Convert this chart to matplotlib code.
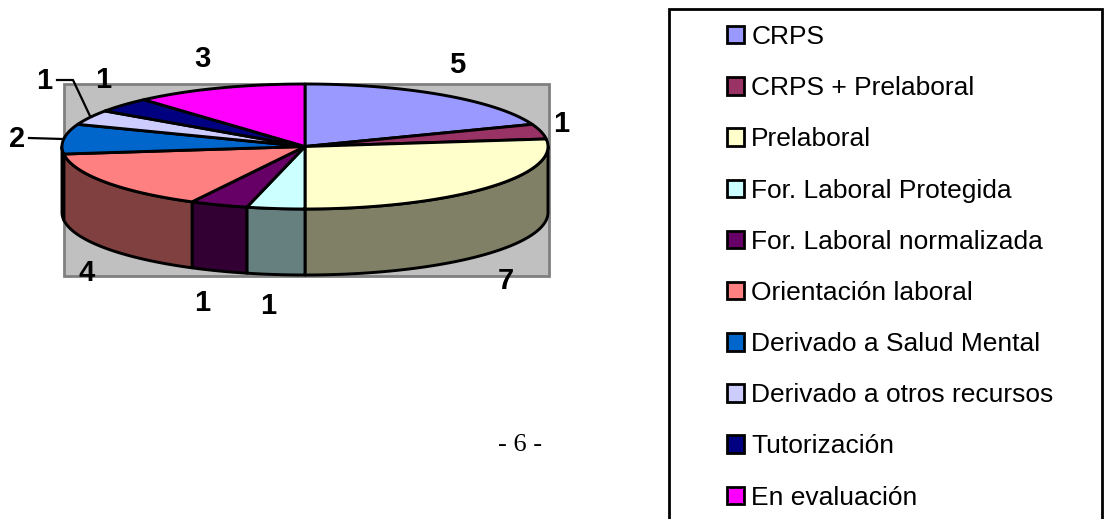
import numpy as np
import matplotlib
matplotlib.use('Agg')
import matplotlib.pyplot as plt
from matplotlib.patches import Polygon, Rectangle, Patch

categorias = ['CRPS', 'CRPS + Prelaboral', 'Prelaboral', 'For. Laboral Protegida',
              'For. Laboral normalizada', 'Orientación laboral', 'Derivado a Salud Mental',
              'Derivado a otros recursos', 'Tutorización', 'En evaluación']
valores = [5, 1, 7, 1, 1, 4, 2, 1, 1, 3]
colores = ['#9999ff', '#993366', '#ffffcc', '#ccffff', '#660066',
           '#ff8080', '#0066cc', '#ccccff', '#000080', '#ff00ff']
colores_lado = ['#4d4d80', '#4d1a33', '#808066', '#668080', '#330033',
                '#804040', '#003366', '#666680', '#000040', '#800080']

# geometria de la tarta, en pixeles
cx, cy = 305, 146.5
rx, ry = 243, 62.5
alto = 66

plt.rcParams['font.family'] = ['Liberation Sans', 'DejaVu Sans']

fig = plt.figure(figsize=(11.04, 5.19), dpi=100)
ax = fig.add_axes([0, 0, 1, 1])
ax.set_xlim(0, 1104)
ax.set_ylim(519, 0)
ax.axis('off')


def arco(a1, a2, dy=0):
    t = np.linspace(a1, a2, 80)
    return np.column_stack([cx + rx * np.sin(t), cy - ry * np.cos(t) + dy])


# fondo gris
ax.add_patch(Rectangle((63.5, 84), 485, 192, fc='#c0c0c0', ec='#808080', lw=2, zorder=1))

acum = np.cumsum([0] + valores) / sum(valores) * 2 * np.pi

# lados, solo la mitad de delante
for i in range(len(valores)):
    a1 = max(acum[i], np.pi / 2)
    a2 = min(acum[i + 1], 3 * np.pi / 2)
    if a2 <= a1:
        continue
    pts = np.vstack([arco(a1, a2), arco(a1, a2, alto)[::-1]])
    ax.add_patch(Polygon(pts, closed=True, fc=colores_lado[i], ec='black', lw=2.1,
                         joinstyle='round', zorder=2))

# cara de arriba
for i in range(len(valores)):
    pts = np.vstack([[cx, cy], arco(acum[i], acum[i + 1])])
    ax.add_patch(Polygon(pts, closed=True, fc=colores[i], ec='black', lw=2.1,
                         joinstyle='round', zorder=3))

# etiquetas
etiquetas = [(457, 65), (561, 124), (506, 281), (268, 306), (202, 303),
             (87, 273), (17, 139), (44, 81), (103, 80), (202, 59)]
for (x, y), v in zip(etiquetas, valores):
    ax.text(x, y, str(v), ha='center', va='center', fontsize=21, fontweight='bold',
            color='black', zorder=5)

# lineas guia
ax.plot([29, 63], [138, 139], color='black', lw=1.6, zorder=4)
ax.plot([57, 73, 90], [80, 80, 116], color='black', lw=1.6, zorder=4)

# marco de la leyenda
ax.add_patch(Rectangle((669, 9), 433, 520, fc='white', ec='black', lw=2, zorder=1))

handles = [Patch(fc=c, ec='black', lw=2) for c in colores]
leg = ax.legend(handles, categorias, loc='upper left', bbox_to_anchor=(727 / 1104, 1 - 25 / 519),
                frameon=False, fontsize=19, borderpad=0, borderaxespad=0,
                labelspacing=1.03, handlelength=0.64, handleheight=0.64, handletextpad=0.28)
leg.set_zorder(5)

ax.text(520, 445, '- 6 -', ha='center', va='center', fontsize=19, family='Liberation Serif',
        color='black')

fig.savefig('out.png', dpi=100)
